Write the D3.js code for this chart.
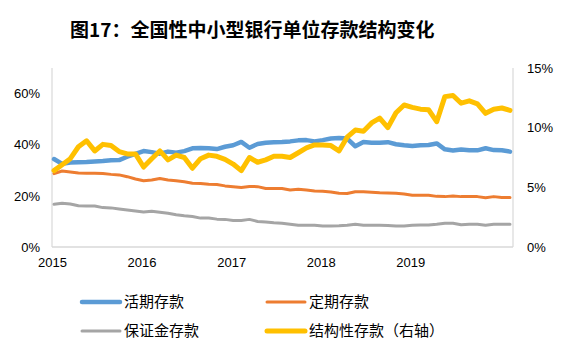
<!DOCTYPE html>
<html>
<head>
<meta charset="utf-8">
<script src="https://cdn.jsdelivr.net/npm/d3@7"></script>
<style>
  html, body { margin: 0; padding: 0; background: #fff; }
  svg { display: block; }
</style>
</head>
<body>
<svg id="chart" width="566" height="356"></svg>
<script>
// ---- data ----
const categories = [
  "2015-01","2015-02","2015-03","2015-04","2015-05","2015-06","2015-07","2015-08","2015-09","2015-10","2015-11",
  "2015-12","2016-01","2016-02","2016-03","2016-04","2016-05","2016-06","2016-07","2016-08","2016-09","2016-10",
  "2016-11","2016-12","2017-01","2017-02","2017-03","2017-04","2017-05","2017-06","2017-07","2017-08","2017-09",
  "2017-10","2017-11","2017-12","2018-01","2018-02","2018-03","2018-04","2018-05","2018-06","2018-07","2018-08",
  "2018-09","2018-10","2018-11","2018-12","2019-01","2019-02","2019-03","2019-04","2019-05","2019-06","2019-07",
  "2019-08","2019-09"
];
const tickIndex = [0, 11, 22, 33, 44];
const tickLabels = ["2015", "2016", "2017", "2018", "2019"];
const leftTicks = [0, 20, 40, 60];
const rightTicks = [0, 5, 10, 15];

const demand = [34.4,32.5,33.0,33.1,33.2,33.4,33.6,33.9,34.0,35.3,36.4,37.5,37.1,36.5,37.3,36.9,37.5,38.6,38.7,38.6,
  38.3,39.2,39.8,41.1,38.8,40.3,40.8,41.0,41.1,41.3,41.7,41.8,41.3,41.8,42.4,42.6,42.4,39.4,41.1,40.8,
  40.8,41.0,40.2,39.8,39.5,39.8,39.9,40.5,38.2,37.7,38.1,37.8,37.8,38.6,37.9,37.8,37.3];
const time = [28.7,29.7,29.3,28.9,28.8,28.8,28.7,28.4,28.2,27.5,26.6,25.9,26.2,26.8,26.2,25.9,25.5,24.9,24.8,24.5,
  24.4,23.9,23.6,23.3,23.7,23.6,22.9,22.9,22.9,22.3,22.6,22.3,21.9,21.8,21.5,21.0,20.9,21.6,21.6,21.4,
  21.2,21.1,21.0,20.7,20.2,20.2,20.2,19.8,19.7,19.9,19.7,19.7,19.7,19.3,19.7,19.4,19.4];
const margin = [16.7,17.1,16.8,16.1,16.0,16.0,15.4,15.3,14.9,14.5,14.1,13.7,14.0,13.6,13.2,12.6,12.2,11.9,11.3,11.3,
  10.9,10.8,10.4,10.4,10.8,10.0,9.8,9.5,9.3,8.9,8.5,8.5,8.5,8.2,8.2,8.3,8.5,8.9,8.5,8.5,
  8.5,8.4,8.2,8.2,8.5,8.6,8.6,8.9,9.3,9.3,8.7,8.9,8.9,8.5,8.9,8.9,8.9];
const structured = [6.4,6.9,7.4,8.4,8.9,8.05,8.6,8.5,8.0,7.8,7.8,6.7,7.4,8.05,7.3,7.7,7.5,6.6,7.4,7.7,
  7.6,7.35,6.95,6.4,7.5,7.1,7.3,7.6,7.6,7.5,7.9,8.3,8.55,8.55,8.5,8.05,9.2,9.8,9.7,10.4,
  10.8,10.0,11.25,11.9,11.7,11.55,11.5,10.5,12.6,12.7,12.05,12.25,12.0,11.2,11.55,11.65,11.45];

const seriesNames = ["活期存款", "定期存款", "保证金存款", "结构性存款（右轴）"];
const title = "图17：全国性中小型银行单位存款结构变化";

// ---- chart ----
const svg = d3.select("#chart");
const plot = { left: 52, right: 513, top: 68, bottom: 247 };

const x = d3.scaleLinear().domain([0, categories.length - 1]).range([54, 510]);
const yL = d3.scaleLinear().domain([0, 70]).range([plot.bottom, plot.top]);
const yR = d3.scaleLinear().domain([0, 15]).range([plot.bottom, plot.top]);

// title
svg.append("text")
  .attr("x", 70).attr("y", 37)
  .attr("font-family", "'Noto Sans CJK SC', sans-serif")
  .attr("font-weight", "bold")
  .attr("font-size", 19)
  .attr("fill", "#000")
  .text(title);

// frame lines
const frameColor = "#d9d9d9";
svg.append("line").attr("x1", plot.left).attr("x2", plot.left).attr("y1", plot.top).attr("y2", plot.bottom)
  .attr("stroke", frameColor).attr("stroke-width", 1.2);
svg.append("line").attr("x1", plot.right).attr("x2", plot.right).attr("y1", plot.top).attr("y2", plot.bottom)
  .attr("stroke", frameColor).attr("stroke-width", 1.2);
svg.append("line").attr("x1", plot.left).attr("x2", plot.right).attr("y1", plot.bottom).attr("y2", plot.bottom)
  .attr("stroke", frameColor).attr("stroke-width", 1.5);

const tickFont = "'Liberation Sans', Arial, sans-serif";

// left axis
const gL = svg.append("g").attr("transform", `translate(${plot.left - 12},0)`)
  .call(d3.axisLeft(yL).tickValues(leftTicks).tickSize(0).tickPadding(0).tickFormat(d => d + "%"));
gL.select(".domain").remove();
gL.selectAll("text").attr("font-family", tickFont).attr("font-size", 13).attr("fill", "#000");

// right axis
const gR = svg.append("g").attr("transform", `translate(${plot.right + 14},0)`)
  .call(d3.axisRight(yR).tickValues(rightTicks).tickSize(0).tickPadding(0).tickFormat(d => d + "%"));
gR.select(".domain").remove();
gR.selectAll("text").attr("font-family", tickFont).attr("font-size", 13).attr("fill", "#000");

// bottom axis
const gB = svg.append("g").attr("transform", `translate(-2,${plot.bottom + 11})`)
  .call(d3.axisBottom(x).tickValues(tickIndex).tickSize(0).tickPadding(0)
    .tickFormat((d, i) => tickLabels[i]));
gB.select(".domain").remove();
gB.selectAll("text").attr("font-family", tickFont).attr("font-size", 13).attr("fill", "#000");

// lines
const series = [
  { name: seriesNames[0], values: demand, scale: yL, color: "#5B9BD5", width: 4.5 },
  { name: seriesNames[1], values: time, scale: yL, color: "#ED7D31", width: 3 },
  { name: seriesNames[2], values: margin, scale: yL, color: "#A5A5A5", width: 3 },
  { name: seriesNames[3], values: structured, scale: yR, color: "#FFC000", width: 5 }
];

series.forEach(s => {
  const line = d3.line().x((d, i) => x(i)).y(d => s.scale(d));
  svg.append("path")
    .datum(s.values)
    .attr("d", line)
    .attr("fill", "none")
    .attr("stroke", s.color)
    .attr("stroke-width", s.width)
    .attr("stroke-linejoin", "round")
    .attr("stroke-linecap", "round");
});

// legend
const legendPos = [
  { x: 82, y: 302 }, { x: 267, y: 302 },
  { x: 82, y: 331 }, { x: 267, y: 331 }
];
series.forEach((s, i) => {
  const p = legendPos[i];
  const g = svg.append("g").attr("transform", `translate(${p.x},${p.y})`);
  g.append("line").attr("x1", 0).attr("x2", 38).attr("y1", 0).attr("y2", 0)
    .attr("stroke", s.color).attr("stroke-width", s.width).attr("stroke-linecap", "round");
  g.append("text").attr("x", 42).attr("y", 0).attr("dy", "0.36em")
    .attr("font-family", "'Noto Sans CJK SC', sans-serif")
    .attr("font-size", 15).attr("fill", "#000")
    .text(s.name);
});
</script>
</body>
</html>
